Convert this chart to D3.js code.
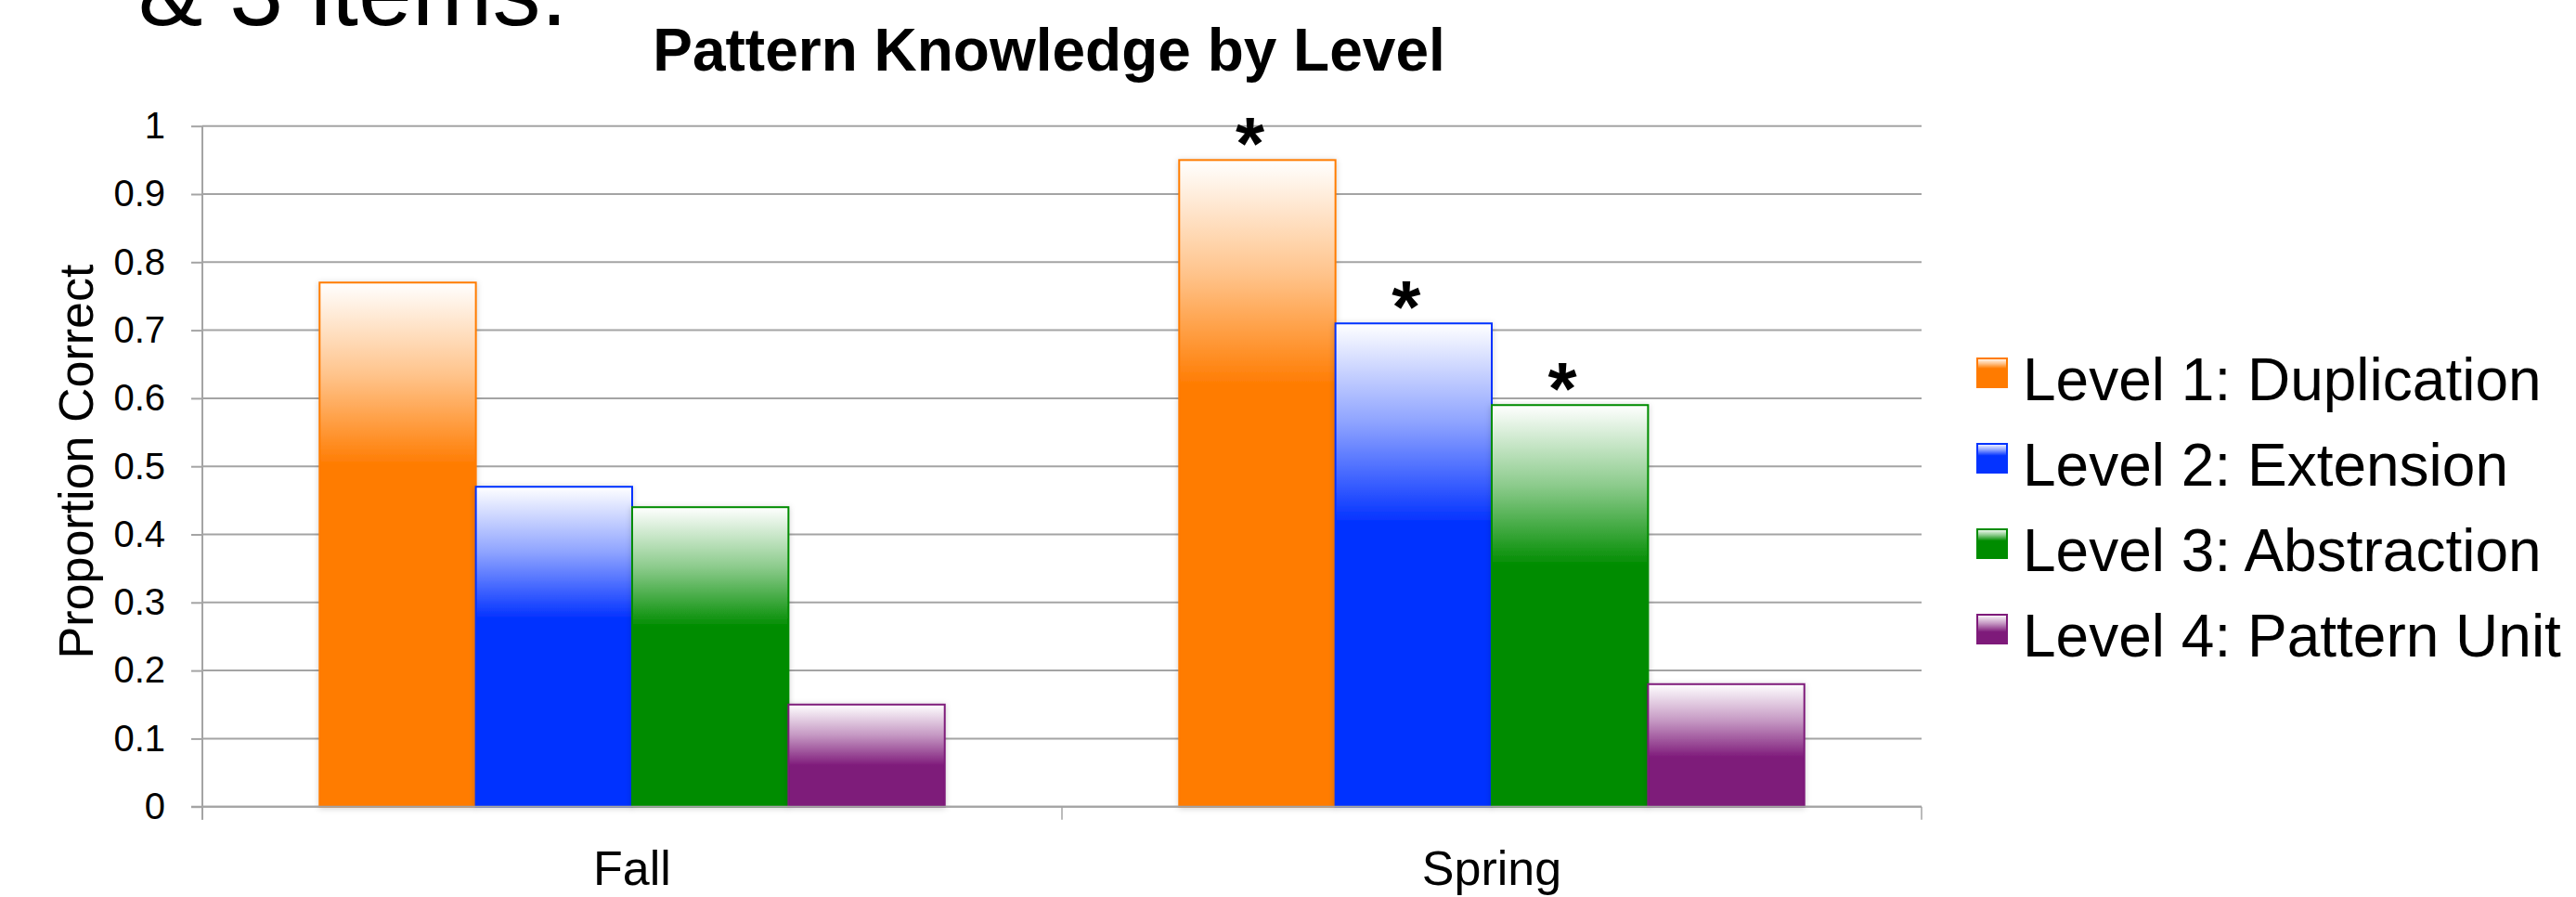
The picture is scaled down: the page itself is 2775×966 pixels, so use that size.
<!DOCTYPE html>
<html><head><meta charset="utf-8">
<script src="https://cdn.jsdelivr.net/npm/d3@7"></script>
<style>
body{margin:0;background:#fff;}
svg{display:block;font-family:"Liberation Sans",Arial,Helvetica,sans-serif;}
</style>
</head><body>
<svg id="chart" width="2775" height="966"></svg>
<script>
// ---- data ----
const categories = ["Fall", "Spring"];
const seriesNames = ["Level 1: Duplication", "Level 2: Extension", "Level 3: Abstraction", "Level 4: Pattern Unit"];
const level1 = [0.77, 0.95];
const level2 = [0.47, 0.71];
const level3 = [0.44, 0.59];
const level4 = [0.15, 0.18];
const significance = [[false, true], [false, true], [false, true], [false, false]];
const yTicks = [0, 0.1, 0.2, 0.3, 0.4, 0.5, 0.6, 0.7, 0.8, 0.9, 1];
const yTickLabels = ["0", "0.1", "0.2", "0.3", "0.4", "0.5", "0.6", "0.7", "0.8", "0.9", "1"];
const chartTitle = "Pattern Knowledge by Level";
const yAxisTitle = "Proportion Correct";
const slideText = "& 3 items.";

// ---- style ----
const colors = ["#ff7b00", "#0433ff", "#008c00", "#7e1a7a"];
const gradEnd = [0.35, 0.41, 0.40, 0.6];
const gridColor = "#a4a4a4";

const seriesValues = [level1, level2, level3, level4];
const svg = d3.select("#chart");

const plotLeft = 218, plotRight = 2070, plotTop = 135.7, plotBottom = 868.7;
const y = d3.scaleLinear().domain([0, 1]).range([plotBottom, plotTop]);
const x0 = d3.scaleBand().domain(categories).range([plotLeft, plotRight]).padding(0);
const x1 = d3.scaleBand().domain(d3.range(seriesNames.length)).range([0, x0.bandwidth()])
  .paddingInner(0).paddingOuter(0.75);

// gradients
const defs = svg.append("defs");
colors.forEach((c, i) => {
  const g = defs.append("linearGradient").attr("id", "grad" + i)
    .attr("x1", 0).attr("y1", 0).attr("x2", 0).attr("y2", 1);
  g.append("stop").attr("offset", 0).attr("stop-color", "#ffffff");
  g.append("stop").attr("offset", gradEnd[i] * 0.5).attr("stop-color", d3.interpolateRgb("#ffffff", c)(0.45));
  g.append("stop").attr("offset", gradEnd[i]).attr("stop-color", c);
  g.append("stop").attr("offset", 1).attr("stop-color", c);
});
const f = defs.append("filter").attr("id", "shadow").attr("x", "-10%").attr("y", "-10%").attr("width", "120%").attr("height", "120%");
f.append("feDropShadow").attr("dx", 0).attr("dy", 1).attr("stdDeviation", 3)
  .attr("flood-color", "#000").attr("flood-opacity", 0.18);

// slide text cut at top
svg.append("text").attr("x", 149).attr("y", 27).attr("font-size", 104).attr("fill", "#000").text(slideText);

// title
svg.append("text").attr("x", 1130).attr("y", 75.7).attr("text-anchor", "middle")
  .attr("font-size", 64).attr("font-weight", "bold").attr("fill", "#000").text(chartTitle);

// gridlines
svg.append("g").selectAll("line").data(yTicks).join("line")
  .attr("x1", plotLeft).attr("x2", plotRight)
  .attr("y1", d => y(d)).attr("y2", d => y(d))
  .attr("stroke", gridColor).attr("stroke-width", 2);

// y axis
const yAxis = svg.append("g").attr("transform", `translate(${plotLeft},0)`)
  .call(d3.axisLeft(y).tickValues(yTicks).tickSize(12).tickPadding(28)
    .tickFormat((d, i) => yTickLabels[i]));
yAxis.select(".domain").remove();
yAxis.selectAll(".tick line").attr("stroke", gridColor).attr("stroke-width", 2);
yAxis.selectAll(".tick text").attr("font-size", 40).attr("fill", "#000")
  .attr("font-family", "'Liberation Sans',Arial,sans-serif");

// bars
const groups = svg.append("g").selectAll("g").data(seriesNames).join("g");
groups.each(function (name, si) {
  d3.select(this).selectAll("rect").data(seriesValues[si]).join("rect")
    .attr("x", (d, ci) => x0(categories[ci]) + x1(si))
    .attr("y", d => y(d))
    .attr("width", x1.bandwidth())
    .attr("height", d => y(0) - y(d))
    .attr("fill", `url(#grad${si})`)
    .attr("stroke", colors[si]).attr("stroke-width", 2)
    .attr("filter", "url(#shadow)");
});

// baseline + axis lines
svg.append("line").attr("x1", plotLeft - 12).attr("x2", plotRight).attr("y1", y(0)).attr("y2", y(0))
  .attr("stroke", gridColor).attr("stroke-width", 2);
svg.append("line").attr("x1", plotLeft).attr("x2", plotLeft).attr("y1", plotTop).attr("y2", plotBottom + 14)
  .attr("stroke", gridColor).attr("stroke-width", 2);
const bounds = categories.map(c => x0(c)).concat([x0(categories[categories.length - 1]) + x0.bandwidth()]);
svg.append("g").selectAll("line").data(bounds).join("line")
  .attr("x1", d => d).attr("x2", d => d).attr("y1", plotBottom).attr("y2", plotBottom + 14)
  .attr("stroke", gridColor).attr("stroke-width", 1.5);

// category labels
svg.append("g").selectAll("text").data(categories).join("text")
  .attr("x", d => x0(d) + x0.bandwidth() / 2).attr("y", 953)
  .attr("text-anchor", "middle").attr("font-size", 52).attr("fill", "#000").text(d => d);

// significance asterisks
seriesNames.forEach((name, si) => {
  categories.forEach((c, ci) => {
    if (significance[si][ci]) {
      svg.append("text")
        .attr("x", x0(c) + x1(si) + x1.bandwidth() / 2 - 8)
        .attr("y", y(seriesValues[si][ci]) + 10)
        .attr("text-anchor", "middle").attr("font-size", 80).attr("font-weight", "bold")
        .attr("fill", "#000").text("*");
    }
  });
});

// y axis title
svg.append("text").attr("transform", `translate(100,497) rotate(-90)`)
  .attr("text-anchor", "middle").attr("font-size", 52).attr("fill", "#000").text(yAxisTitle);

// legend
const legend = svg.append("g").selectAll("g").data(seriesNames).join("g")
  .attr("transform", (d, i) => `translate(0,${i * 92})`);
legend.append("rect").attr("x", 2130).attr("y", 386).attr("width", 32).attr("height", 31)
  .attr("fill", (d, i) => `url(#grad${i})`).attr("stroke", (d, i) => colors[i]).attr("stroke-width", 2);
legend.append("text").attr("x", 2179).attr("y", 430.7).attr("font-size", 64).attr("fill", "#000").text(d => d);
</script>
</body></html>
